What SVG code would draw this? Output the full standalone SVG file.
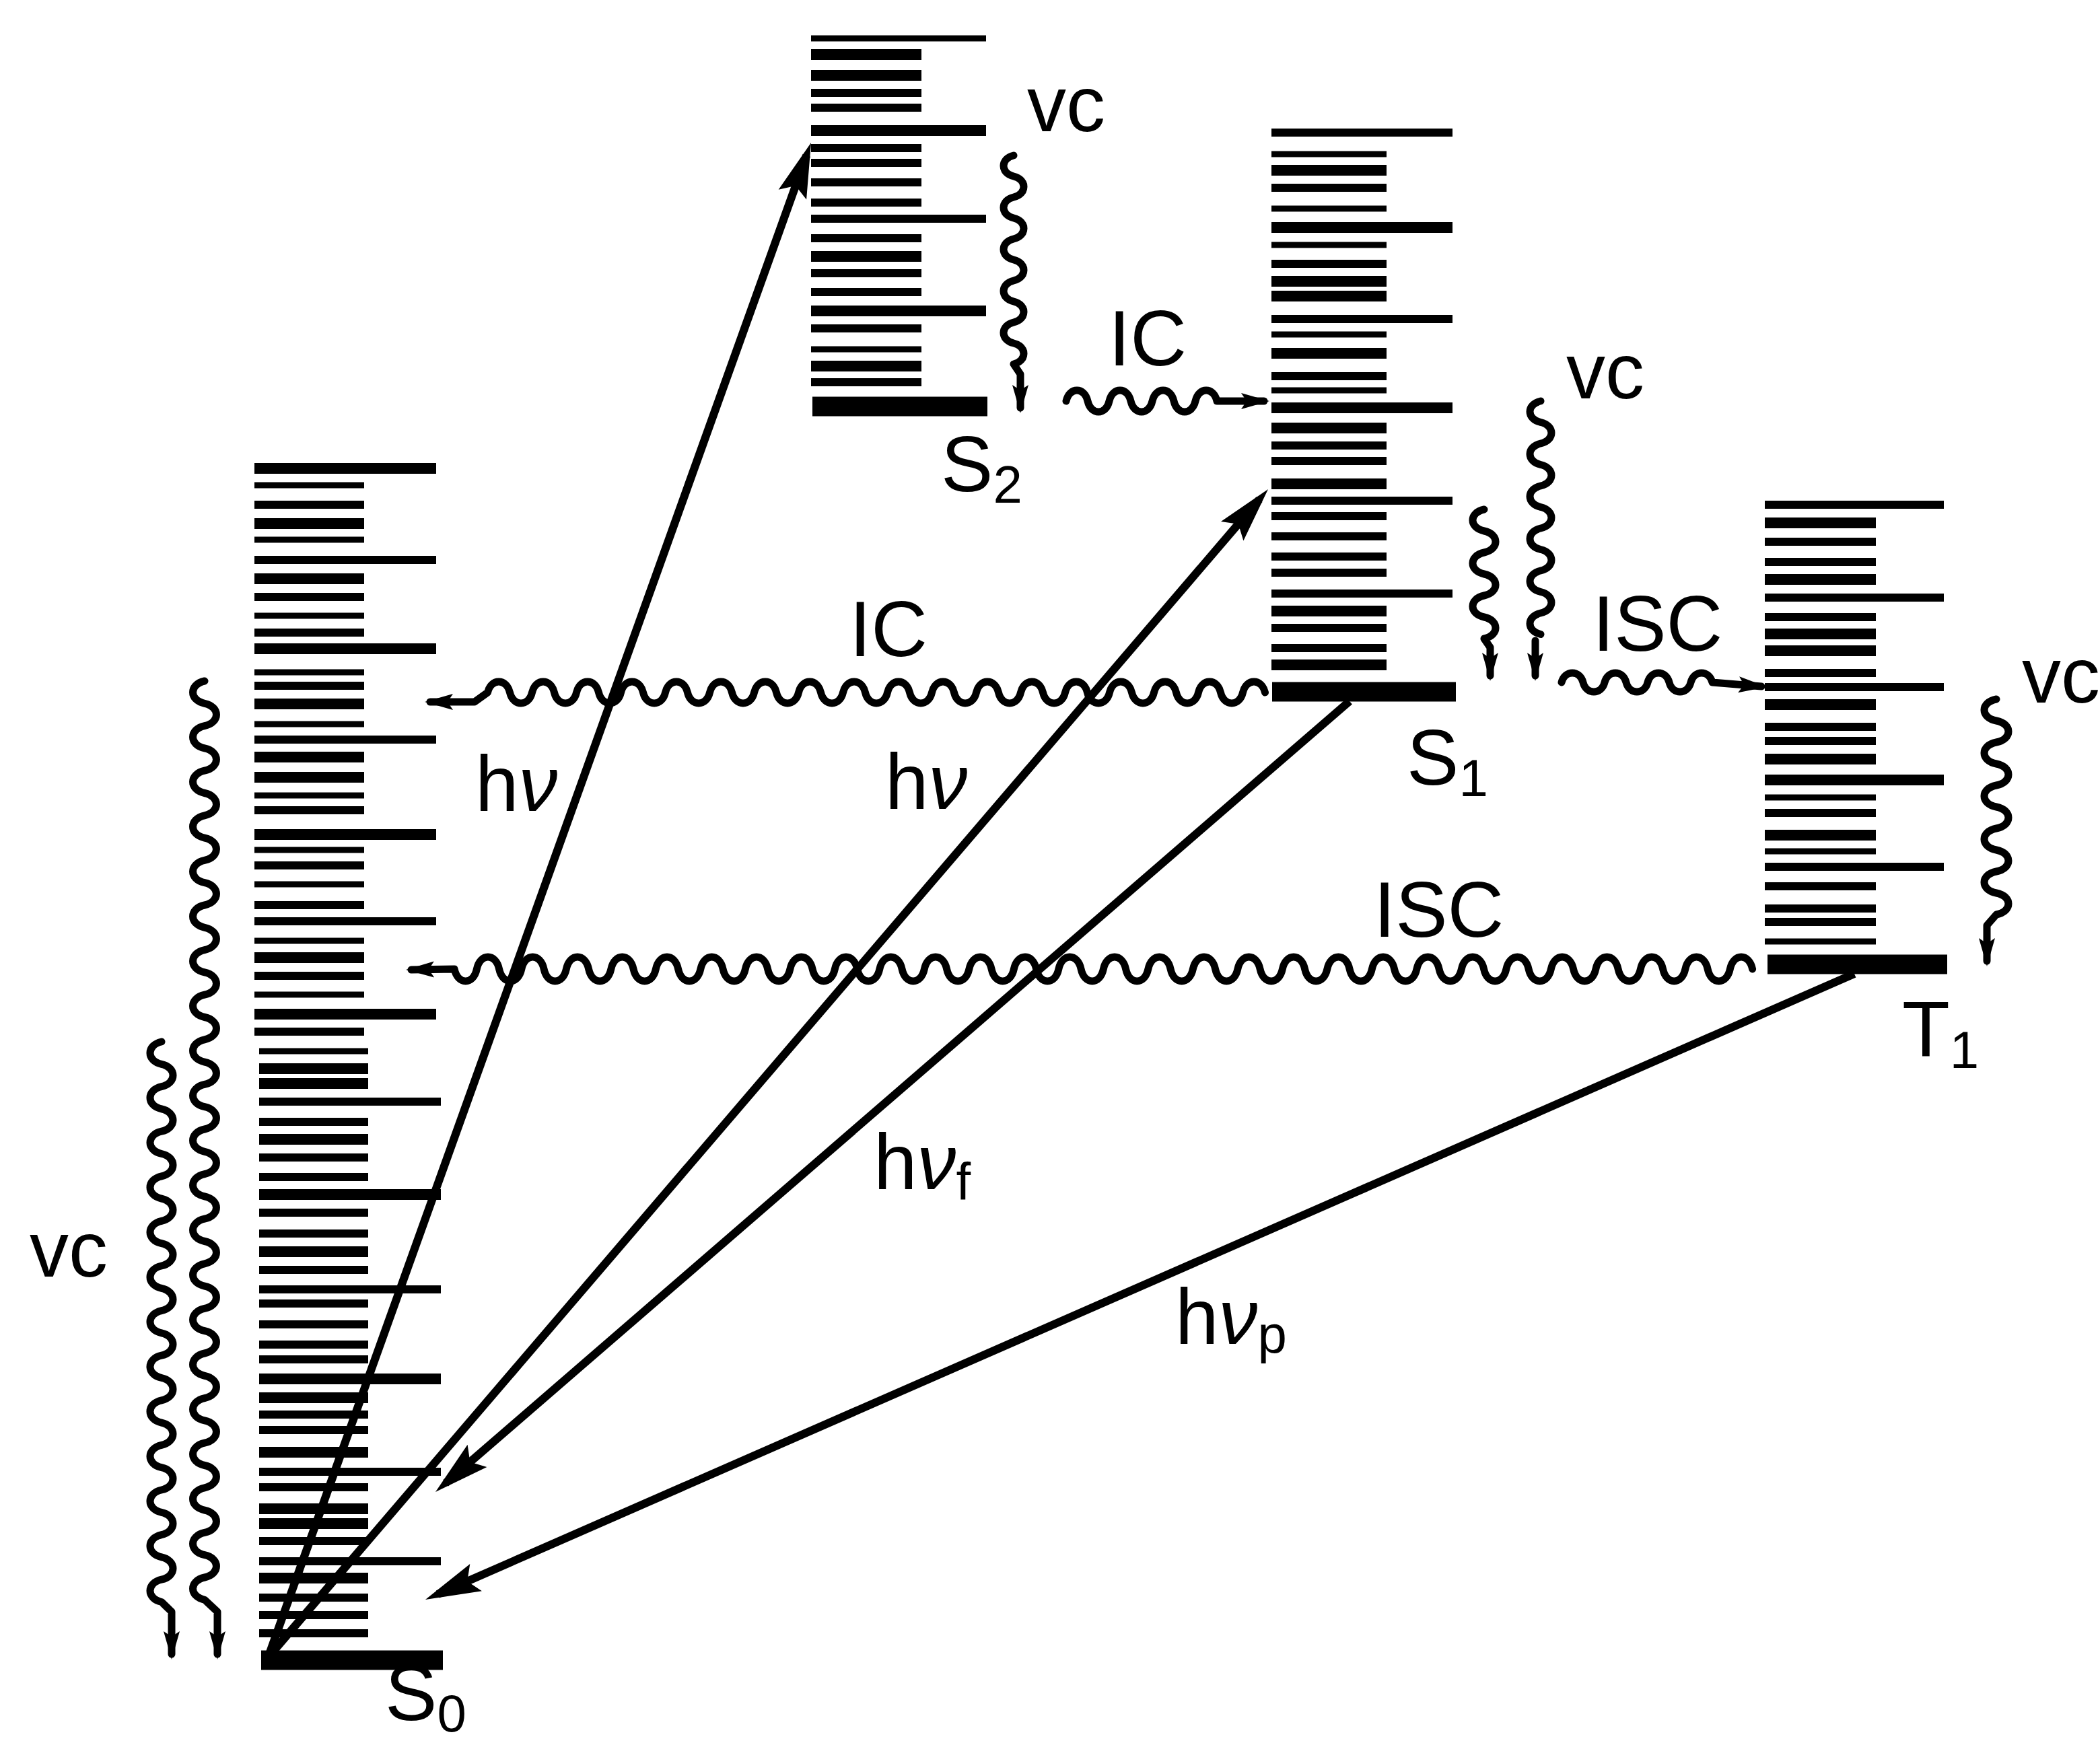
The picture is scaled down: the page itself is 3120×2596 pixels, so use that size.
<svg xmlns="http://www.w3.org/2000/svg" width="3120" height="2596" viewBox="0 0 3120 2596">
<style>
.lv{fill:none;stroke:#000}
.t1{stroke-width:9}.t2{stroke-width:12}.t3{stroke-width:16}.tb{stroke-width:29}
.wave{fill:none;stroke:#000;stroke-width:11;stroke-linejoin:round;stroke-linecap:round}
.ph{fill:none;stroke:#000;stroke-width:12}
text{font-family:"Liberation Sans",Arial,sans-serif;font-size:116px;fill:#000}
.sub{font-size:78px}
.it{font-style:italic}
</style>
<defs>
<marker id="sa" markerUnits="userSpaceOnUse" viewBox="-36 -14 46 28" refX="0" refY="0" markerWidth="46" markerHeight="28" orient="auto"><path d="M8,0 L-34,-12 L-26,0 L-34,12 Z" fill="#000"/></marker>
<marker id="la" markerUnits="userSpaceOnUse" viewBox="-64 -25 88 50" refX="0" refY="0" markerWidth="88" markerHeight="50" orient="auto"><path d="M20,0 L-62,-22 L-48,0 L-62,22 Z" fill="#000"/></marker>
</defs>
<rect width="3120" height="2596" fill="#fff"/>

<g id="S2">
<path class="lv t1" d="M1205 57H1465M1205 519H1369"/>
<path class="lv t3" d="M1205 81H1369M1205 112H1369M1205 381H1369M1205 544H1369M1205 194H1465M1205 462H1465"/>
<path class="lv t2" d="M1205 138H1369M1205 160H1369M1205 220H1369M1205 242H1369M1205 271H1369M1205 301H1369M1205 354H1369M1205 406H1369M1205 434H1369M1205 488H1369M1205 568H1369M1205 325H1465"/>
<path class="lv tb" d="M1207 604H1467"/>
<text x="1398" y="730">S<tspan class="sub" dy="17">2</tspan></text>
</g>

<g id="S1">
<path class="lv t2" d="M1889 197H2158M1889 474H2158M1889 744H2158M1889 882H2158M1889 279H2060M1889 392H2060M1889 559H2060M1889 662H2060M1889 685H2060M1889 767H2060M1889 797H2060M1889 827H2060M1889 851H2060M1889 933H2060M1889 963H2060"/>
<path class="lv t3" d="M1889 338H2158M1889 606H2158M1889 253H2060M1889 418H2060M1889 440H2060M1889 525H2060M1889 636H2060M1889 719H2060M1889 908H2060M1889 988H2060"/>
<path class="lv t1" d="M1889 229H2060M1889 310H2060M1889 364H2060M1889 497H2060M1889 580H2060"/>
<path class="lv tb" d="M1890 1028H2163"/>
<text x="2090" y="1166">S<tspan class="sub" dy="17">1</tspan></text>
</g>

<g id="T1">
<path class="lv t2" d="M2622 750H2888M2622 888H2888M2622 1021H2888M2622 1288H2888M2622 805H2787M2622 835H2787M2622 917H2787M2622 1000H2787M2622 1080H2787M2622 1101H2787M2622 1208H2787M2622 1317H2787M2622 1350H2787M2622 1370H2787"/>
<path class="lv t3" d="M2622 1159H2888M2622 777H2787M2622 861H2787M2622 942H2787M2622 967H2787M2622 1047H2787M2622 1128H2787M2622 1241H2787"/>
<path class="lv t1" d="M2622 1185H2787M2622 1265H2787M2622 1399H2787"/>
<path class="lv tb" d="M2626 1433H2893"/>
<text x="2826" y="1570">T<tspan class="sub" dy="17">1</tspan></text>
</g>

<g id="S0">
<path class="lv t3" d="M378 696H648M378 964H648M378 1240H648M378 1507H648M385 1775H655M385 2049H655M378 778H541M378 860H541M378 1046H541M378 1125H541M378 1155H541M378 1423H541M385 1588H547M385 1610H547M385 1693H547M385 1860H547M385 2077H547M385 2158H547M385 2242H547M385 2264H547M385 2345H547"/>
<path class="lv t2" d="M378 832H648M378 1099H648M378 1369H648M385 1637H655M385 1916H655M385 2187H655M385 2320H655M378 750H541M378 887H541M378 940H541M378 1019H541M378 1204H541M378 1286H541M378 1345H541M378 1450H541M378 1533H541M385 1667H547M385 1720H547M385 1749H547M385 1802H547M385 1833H547M385 1887H547M385 1937H547M385 1968H547M385 1998H547M385 2020H547M385 2102H547M385 2125H547M385 2210H547M385 2290H547M385 2374H547M385 2400H547M385 2427H547"/>
<path class="lv t1" d="M378 721H541M378 802H541M378 915H541M378 999H541M378 1076H541M378 1182H541M378 1263H541M378 1314H541M378 1398H541M378 1478H541M385 1562H547"/>
<path class="lv tb" d="M388 2467H658"/>
<text x="572" y="2556">S<tspan class="sub" dy="17">0</tspan></text>
</g>

<g id="connectors">
<path class="wave" marker-end="url(#sa)" d="M1506 231c-20 4.65 -20 26.35 0 31s20 26.35 0 31s-20 26.35 0 31s20 26.35 0 31s-20 26.35 0 31s20 26.35 0 31s-20 26.35 0 31s20 26.35 0 31s-20 26.35 0 31s20 26.35 0 31L1516 556L1516 606"/>
<path class="wave" marker-end="url(#sa)" d="M1584 596c4.8 -21.3 27.2 -21.3 32 0s27.2 21.3 32 0s27.2 -21.3 32 0s27.2 21.3 32 0s27.2 -21.3 32 0s27.2 21.3 32 0s27.2 -21.3 32 0L1878 596"/>
<path class="wave" marker-end="url(#sa)" d="M1879.5 1029c-4.95 -21.3 -28.05 -21.3 -33 0
s-28.05 21.3 -33 0s-28.05 -21.3 -33 0 s-28.05 21.3 -33 0s-28.05 -21.3 -33 0 s-28.05 21.3 -33 0s-28.05 -21.3 -33 0 s-28.05 21.3 -33 0s-28.05 -21.3 -33 0
s-28.05 21.3 -33 0s-28.05 -21.3 -33 0 s-28.05 21.3 -33 0s-28.05 -21.3 -33 0 s-28.05 21.3 -33 0s-28.05 -21.3 -33 0 s-28.05 21.3 -33 0s-28.05 -21.3 -33 0
s-28.05 21.3 -33 0s-28.05 -21.3 -33 0 s-28.05 21.3 -33 0s-28.05 -21.3 -33 0 s-28.05 21.3 -33 0s-28.05 -21.3 -33 0 s-28.05 21.3 -33 0s-28.05 -21.3 -33 0
s-28.05 21.3 -33 0s-28.05 -21.3 -33 0 s-28.05 21.3 -33 0s-28.05 -21.3 -33 0 s-28.05 21.3 -33 0s-28.05 -21.3 -33 0 s-28.05 21.3 -33 0s-28.05 -21.3 -33 0
s-28.05 21.3 -33 0s-28.05 -21.3 -33 0
L705 1043L639 1043"/>
<path class="wave" marker-end="url(#sa)" d="M2205 757c-22.7 4.8 -22.7 27.2 0 32s22.7 27.2 0 32s-22.7 27.2 0 32s22.7 27.2 0 32s-22.7 27.2 0 32s22.7 27.2 0 32L2214 962L2214 1004"/>
<path class="wave" marker-end="url(#sa)" d="M2289 596c-21.3 4.725 -21.3 26.775 0 31.5s21.3 26.775 0 31.5s-21.3 26.775 0 31.5s21.3 26.775 0 31.5s-21.3 26.775 0 31.5s21.3 26.775 0 31.5s-21.3 26.775 0 31.5s21.3 26.775 0 31.5s-21.3 26.775 0 31.5s21.3 26.775 0 31.5s-21.3 26.775 0 31.5M2281 952L2281 1004"/>
<path class="wave" marker-end="url(#sa)" d="M2320 1014c4.8 -18.7 27.2 -18.7 32 0s27.2 18.7 32 0s27.2 -18.7 32 0s27.2 18.7 32 0s27.2 -18.7 32 0s27.2 18.7 32 0s27.2 -18.7 32 0L2617 1020"/>
<path class="wave" marker-end="url(#sa)" d="M2603.6 1440c-4.99 -24 -28.26 -24 -33.25 0
s-28.26 24 -33.25 0s-28.26 -24 -33.25 0 s-28.26 24 -33.25 0s-28.26 -24 -33.25 0 s-28.26 24 -33.25 0s-28.26 -24 -33.25 0 s-28.26 24 -33.25 0s-28.26 -24 -33.25 0
s-28.26 24 -33.25 0s-28.26 -24 -33.25 0 s-28.26 24 -33.25 0s-28.26 -24 -33.25 0 s-28.26 24 -33.25 0s-28.26 -24 -33.25 0 s-28.26 24 -33.25 0s-28.26 -24 -33.25 0
s-28.26 24 -33.25 0s-28.26 -24 -33.25 0 s-28.26 24 -33.25 0s-28.26 -24 -33.25 0 s-28.26 24 -33.25 0s-28.26 -24 -33.25 0 s-28.26 24 -33.25 0s-28.26 -24 -33.25 0
s-28.26 24 -33.25 0s-28.26 -24 -33.25 0 s-28.26 24 -33.25 0s-28.26 -24 -33.25 0 s-28.26 24 -33.25 0s-28.26 -24 -33.25 0 s-28.26 24 -33.25 0s-28.26 -24 -33.25 0
s-28.26 24 -33.25 0s-28.26 -24 -33.25 0 s-28.26 24 -33.25 0s-28.26 -24 -33.25 0 s-28.26 24 -33.25 0s-28.26 -24 -33.25 0 s-28.26 24 -33.25 0s-28.26 -24 -33.25 0
s-28.26 24 -33.25 0s-28.26 -24 -33.25 0 s-28.26 24 -33.25 0s-28.26 -24 -33.25 0 s-28.26 24 -33.25 0s-28.26 -24 -33.25 0 s-28.26 24 -33.25 0s-28.26 -24 -33.25 0
s-28.26 24 -33.25 0s-28.26 -24 -33.25 0 s-28.26 24 -33.25 0s-28.26 -24 -33.25 0 s-28.26 24 -33.25 0s-28.26 -24 -33.25 0 s-28.26 24 -33.25 0s-28.26 -24 -33.25 0
s-28.26 24 -33.25 0
L611 1441"/>
<path class="wave" marker-end="url(#sa)" d="M2966 1039c-24 4.8 -24 27.2 0 32s24 27.2 0 32s-24 27.2 0 32s24 27.2 0 32s-24 27.2 0 32s24 27.2 0 32s-24 27.2 0 32s24 27.2 0 32s-24 27.2 0 32s24 27.2 0 32L2952 1375L2952 1428"/>
<path class="wave" marker-end="url(#sa)" d="M240 1548c-22.7 5 -22.7 28.3 0 33.3
s22.7 28.3 0 33.3s-22.7 28.3 0 33.3 s22.7 28.3 0 33.3s-22.7 28.3 0 33.3 s22.7 28.3 0 33.3s-22.7 28.3 0 33.3 s22.7 28.3 0 33.3s-22.7 28.3 0 33.3
s22.7 28.3 0 33.3s-22.7 28.3 0 33.3 s22.7 28.3 0 33.3s-22.7 28.3 0 33.3 s22.7 28.3 0 33.3s-22.7 28.3 0 33.3 s22.7 28.3 0 33.3s-22.7 28.3 0 33.3
s22.7 28.3 0 33.3s-22.7 28.3 0 33.3 s22.7 28.3 0 33.3s-22.7 28.3 0 33.3 s22.7 28.3 0 33.3s-22.7 28.3 0 33.3 s22.7 28.3 0 33.3s-22.7 28.3 0 33.3
L255 2395L255 2458"/>
<path class="wave" marker-end="url(#sa)" d="M304 1012c-23.3 5 -23.3 28.3 0 33.3
s23.3 28.3 0 33.3s-23.3 28.3 0 33.3 s23.3 28.3 0 33.3s-23.3 28.3 0 33.3 s23.3 28.3 0 33.3s-23.3 28.3 0 33.3 s23.3 28.3 0 33.3s-23.3 28.3 0 33.3
s23.3 28.3 0 33.3s-23.3 28.3 0 33.3 s23.3 28.3 0 33.3s-23.3 28.3 0 33.3 s23.3 28.3 0 33.3s-23.3 28.3 0 33.3 s23.3 28.3 0 33.3s-23.3 28.3 0 33.3
s23.3 28.3 0 33.3s-23.3 28.3 0 33.3 s23.3 28.3 0 33.3s-23.3 28.3 0 33.3 s23.3 28.3 0 33.3s-23.3 28.3 0 33.3 s23.3 28.3 0 33.3s-23.3 28.3 0 33.3
s23.3 28.3 0 33.3s-23.3 28.3 0 33.3 s23.3 28.3 0 33.3s-23.3 28.3 0 33.3 s23.3 28.3 0 33.3s-23.3 28.3 0 33.3 s23.3 28.3 0 33.3s-23.3 28.3 0 33.3
s23.3 28.3 0 33.3s-23.3 28.3 0 33.3 s23.3 28.3 0 33.3s-23.3 28.3 0 33.3 s23.3 28.3 0 33.3s-23.3 28.3 0 33.3 s23.3 28.3 0 33.3s-23.3 28.3 0 33.3
L323 2395L323 2458"/>
<path class="ph" marker-end="url(#la)" d="M400 2458L1198.3 230.8"/>
<path class="ph" marker-end="url(#la)" d="M405 2455L1871 742.2"/>
<path class="ph" marker-end="url(#la)" d="M2005 1042L662.1 2203.9"/>
<path class="ph" marker-end="url(#la)" d="M2755 1447L650.3 2369"/>
</g>

<g id="labels">
<text x="1526" y="195">vc</text>
<text x="1647" y="543">IC</text>
<text x="2327" y="592">vc</text>
<text x="2366" y="967">ISC</text>
<text x="3004" y="1044">vc</text>
<text x="1262" y="975">IC</text>
<text x="2041" y="1392">ISC</text>
<text x="706" y="1205">h<tspan class="it">ν</tspan></text>
<text x="1315" y="1202">h<tspan class="it">ν</tspan></text>
<text x="1298" y="1767">h<tspan class="it">ν</tspan><tspan class="sub" dy="16">f</tspan></text>
<text x="1746" y="1997">h<tspan class="it">ν</tspan><tspan class="sub" dy="13">p</tspan></text>
<text x="44" y="1897">vc</text>
</g>
</svg>
